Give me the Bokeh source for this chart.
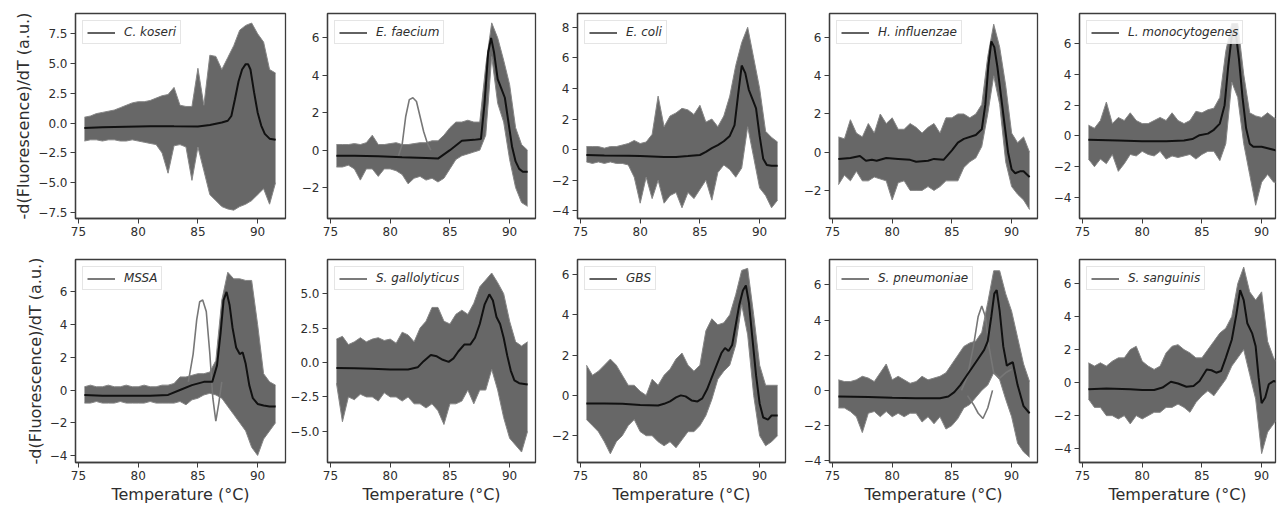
from bokeh.plotting import figure
from bokeh.models import Range1d, FixedTicker, Legend, LegendItem
from bokeh.layouts import row, column
from bokeh.embed import file_html
from bokeh.resources import INLINE

# ---------------- data ----------------
T = [75.5, 76.0, 76.5, 77.0, 77.5, 78.0, 78.5, 79.0, 79.5, 80.0, 80.5, 81.0, 81.5,
     82.0, 82.5, 83.0, 83.5, 84.0, 84.5, 85.0, 85.5, 86.0, 86.5, 87.0, 87.5, 88.0,
     88.5, 89.0, 89.5, 90.0, 90.5, 91.0, 91.5]

XTICKS = [75, 80, 85, 90]

# C. koseri
CK_MT = [75.5, 77.0, 79.0, 81.0, 83.0, 85.0, 86.0, 87.0, 87.5, 87.8, 88.1, 88.4, 88.7, 89.0, 89.2, 89.4, 89.7, 90.0, 90.3, 90.6, 91.0, 91.5]
CK_MY = [-0.4, -0.35, -0.3, -0.25, -0.27, -0.28, -0.15, 0.05, 0.2, 0.6, 2.0, 3.5, 4.5, 4.95, 4.95, 4.5, 2.6, 0.9, -0.2, -0.9, -1.3, -1.4]
CK_BU = [0.5, 0.6, 0.8, 0.9, 1.0, 1.1, 1.3, 1.5, 1.7, 1.8, 1.8, 1.9, 2.1, 2.3, 2.4, 3.0, 1.5, 1.4, 1.4, 4.6, 1.5, 5.7, 5.6, 4.5, 5.5, 6.5, 7.8, 8.2, 8.4, 7.5, 6.8, 4.5, 4.2]
CK_BL = [-1.5, -1.4, -1.4, -1.5, -1.4, -1.4, -1.5, -1.5, -1.4, -1.5, -1.6, -1.7, -1.8, -2.5, -4.2, -1.9, -1.8, -2.0, -4.8, -2.0, -4.0, -6.0, -6.5, -7.0, -7.2, -7.3, -7.0, -6.8, -6.5, -6.0, -5.5, -6.8, -5.0]
CK_YTICKS = [-7.5, -5.0, -2.5, 0.0, 2.5, 5.0, 7.5]
CK_YLABELS = ["\u22127.5", "\u22125.0", "\u22122.5", "0.0", "2.5", "5.0", "7.5"]

# E. faecium
EF_MT = [75.5, 77, 79, 81, 83, 84, 85, 86, 87, 87.6, 87.9, 88.2, 88.45, 88.7, 89.0, 89.3, 89.6, 89.9, 90.2, 90.5, 90.8, 91.1, 91.5]
EF_MY = [-0.3, -0.3, -0.33, -0.38, -0.42, -0.45, 0.0, 0.5, 0.55, 0.6, 2.5, 5.2, 6.0, 5.2, 3.8, 3.3, 2.8, 1.5, 0.2, -0.6, -1.0, -1.15, -1.15]
EF_BU = [0.3, 0.3, 0.3, 0.35, 0.3, 0.4, 0.8, 0.3, 0.3, 0.35, 0.4, 0.3, 0.3, 0.35, 0.4, 0.4, 0.5, 0.5, 0.8, 1.2, 1.5, 1.5, 1.6, 1.5, 1.5, 4.5, 6.8, 6.0, 4.8, 3.5, 1.2, 0.3, 0.0]
EF_BL = [-0.9, -0.9, -0.8, -1.0, -1.6, -1.0, -1.0, -1.4, -1.0, -1.0, -1.1, -1.3, -1.8, -1.5, -1.4, -1.6, -1.5, -1.7, -1.5, -1.0, -0.5, -0.3, -0.2, -0.1, 0.0, 0.8, 5.0, 2.5, 1.5, -0.5, -2.0, -2.8, -3.0]
EF_OT = [80.7, 81.0, 81.3, 81.6, 81.9, 82.2, 82.5, 82.8, 83.1, 83.4]
EF_OY = [-0.3, 0.3, 1.8, 2.7, 2.8, 2.6, 1.8, 1.0, 0.4, 0.0]
EF_YTICKS = [-2, 0, 2, 4, 6]
EF_YLABELS = ["\u22122", "0", "2", "4", "6"]

# E. coli
EC_MT = [75.5, 77, 79, 80, 82, 83, 84, 85, 85.5, 86, 86.5, 87, 87.5, 87.9, 88.2, 88.5, 88.8, 89.1, 89.4, 89.7, 90.0, 90.3, 90.6, 91.0, 91.5]
EC_MY = [-0.35, -0.38, -0.4, -0.42, -0.48, -0.48, -0.42, -0.35, -0.15, 0.1, 0.3, 0.55, 0.9, 1.6, 3.6, 5.5, 5.0, 3.9, 3.3, 2.7, 0.9, -0.6, -1.0, -1.05, -1.05]
EC_BU = [0.2, 0.2, 0.2, 0.1, 0.2, 0.2, 0.3, 0.4, 0.6, 0.4, 0.5, 1.0, 3.5, 1.5, 2.2, 2.4, 2.7, 2.6, 2.3, 2.9, 1.8, 2.0, 1.5, 2.2, 3.5, 5.5, 7.0, 8.0, 6.0, 4.0, 1.2, 0.8, 0.5]
EC_BL = [-0.8, -0.9, -0.8, -0.9, -0.8, -0.9, -0.9, -1.0, -1.8, -3.5, -1.8, -3.2, -2.0, -3.5, -3.0, -2.8, -3.8, -2.8, -3.2, -2.6, -2.0, -3.3, -1.5, -1.0, -1.3, -1.8, -1.2, 1.5, -0.5, -2.5, -3.0, -3.8, -3.3]
EC_YTICKS = [-4, -2, 0, 2, 4, 6, 8]
EC_YLABELS = ["\u22124", "\u22122", "0", "2", "4", "6", "8"]

# H. influenzae
HI_MT = [75.5, 76.5, 77.3, 77.8, 78.3, 78.7, 79.5, 80.5, 81.5, 82.0, 83.0, 83.5, 84.3, 85.0, 85.5, 86.0, 87.0, 87.5, 87.8, 88.05, 88.3, 88.55, 88.8, 89.1, 89.4, 89.7, 90.0, 90.3, 90.7, 91.0, 91.5]
HI_MY = [-0.35, -0.3, -0.2, -0.45, -0.4, -0.45, -0.3, -0.35, -0.4, -0.5, -0.45, -0.35, -0.4, 0.1, 0.5, 0.7, 0.9, 1.2, 2.5, 4.5, 5.8, 5.5, 4.5, 3.0, 1.5, 0.0, -0.9, -1.1, -1.0, -1.0, -1.3]
HI_BU = [0.8, 0.7, 1.7, 1.0, 0.8, 1.5, 1.0, 2.0, 1.5, 1.8, 1.2, 1.2, 1.5, 1.3, 1.0, 1.3, 1.5, 1.0, 1.8, 1.8, 2.0, 2.0, 1.8, 2.0, 2.5, 5.0, 6.7, 5.5, 3.5, 1.0, 0.5, 0.8, 0.0]
HI_BL = [-1.7, -1.2, -1.5, -1.0, -1.5, -1.5, -1.3, -1.4, -1.5, -2.5, -1.6, -1.5, -2.0, -2.0, -2.0, -1.8, -2.0, -1.8, -1.5, -1.5, -1.5, -0.8, -0.5, -0.3, 0.3, 2.0, 4.0, 2.5, -0.5, -1.8, -2.2, -2.5, -3.0]
HI_YTICKS = [-2, 0, 2, 4, 6]
HI_YLABELS = ["\u22122", "0", "2", "4", "6"]

# L. monocytogenes
LM_MT = [75.5, 78, 80, 82, 83.5, 84.2, 84.8, 85.5, 86.0, 86.5, 86.9, 87.2, 87.5, 87.8, 88.1, 88.4, 88.7, 89.0, 89.3, 90.0, 90.5, 91.0, 91.5]
LM_MY = [-0.25, -0.3, -0.35, -0.35, -0.3, -0.2, 0.05, 0.15, 0.4, 0.8, 2.0, 4.5, 6.5, 6.9, 5.0, 2.5, 0.5, -0.5, -0.7, -0.7, -0.8, -0.9, -1.0]
LM_BU = [0.7, 0.5, 1.0, 2.2, 0.8, 1.2, 1.0, 1.5, 1.0, 0.8, 0.8, 1.0, 1.2, 1.0, 1.5, 1.0, 0.8, 1.0, 1.6, 1.5, 1.7, 1.8, 2.5, 5.5, 7.3, 7.3, 4.0, 1.5, 1.3, 1.2, 1.5, 1.2, 1.0]
LM_BL = [-1.5, -2.0, -1.5, -1.8, -1.2, -2.3, -1.8, -1.2, -1.3, -1.0, -1.2, -1.3, -1.0, -1.5, -1.3, -1.4, -1.3, -1.2, -1.5, -1.2, -1.0, -1.0, -1.6, -0.5, 3.5, 2.5, -0.5, -2.5, -4.5, -3.0, -2.5, -3.0, -3.0]
LM_YTICKS = [-4, -2, 0, 2, 4, 6]
LM_YLABELS = ["\u22124", "\u22122", "0", "2", "4", "6"]

# MSSA
MS_MT = [75.5, 77, 79, 81, 82.5, 83.5, 84.5, 85.5, 86.2, 86.6, 86.9, 87.15, 87.4, 87.65, 87.9, 88.2, 88.5, 88.75, 89.0, 89.3, 89.6, 90.0, 90.5, 91.0, 91.5]
MS_MY = [-0.3, -0.35, -0.35, -0.35, -0.3, 0.0, 0.3, 0.5, 0.5, 1.5, 3.5, 5.5, 6.0, 5.2, 3.8, 2.6, 2.2, 2.3, 1.6, 0.3, -0.5, -0.85, -0.95, -1.0, -1.0]
MS_BU = [0.2, 0.3, 0.2, 0.2, 0.3, 0.2, 0.2, 0.3, 0.2, 0.2, 0.3, 0.2, 0.2, 0.3, 0.3, 0.4, 0.8, 0.8, 0.9, 1.0, 1.0, 1.1, 1.8, 5.5, 7.2, 6.8, 6.8, 6.7, 6.7, 4.0, 1.0, 0.5, 0.3]
MS_BL = [-0.8, -0.8, -0.7, -0.8, -0.8, -0.8, -0.7, -0.8, -0.8, -0.8, -0.8, -0.7, -0.8, -0.8, -0.8, -0.8, -0.7, -0.9, -0.6, -0.5, -0.3, -0.2, -0.3, -0.5, -1.0, -1.5, -2.0, -2.5, -3.5, -4.0, -3.0, -2.5, -2.0]
MS_OT = [84.2, 84.6, 84.9, 85.15, 85.4, 85.7, 86.0, 86.25, 86.5, 86.75, 87.0]
MS_OY = [0.5, 2.2, 4.3, 5.4, 5.5, 4.8, 2.2, -0.5, -1.9, -0.8, 0.5]
MS_YTICKS = [-4, -2, 0, 2, 4, 6]
MS_YLABELS = ["\u22124", "\u22122", "0", "2", "4", "6"]

# S. gallolyticus
SG_MT = [75.5, 77, 78.5, 80, 81.5, 82.3, 82.8, 83.4, 83.9, 84.4, 84.9, 85.3, 85.7, 86.2, 86.7, 87.1, 87.5, 87.9, 88.3, 88.6, 88.9, 89.2, 89.5, 89.8, 90.1, 90.4, 90.8, 91.5]
SG_MY = [-0.4, -0.42, -0.45, -0.5, -0.5, -0.35, 0.1, 0.55, 0.45, 0.2, 0.05, 0.3, 0.8, 1.3, 1.3, 1.8, 2.8, 4.2, 4.95, 4.5, 3.3, 2.8, 1.8, 0.5, -0.6, -1.3, -1.5, -1.6]
SG_BU = [1.7, 1.9, 1.3, 1.5, 1.8, 1.5, 1.7, 1.8, 1.6, 1.7, 1.4, 2.2, 2.0, 1.5, 2.5, 3.0, 4.0, 4.0, 3.0, 2.8, 3.5, 3.8, 3.5, 4.3, 5.5, 6.0, 6.5, 5.8, 5.0, 3.0, 1.5, 1.2, 1.5]
SG_BL = [-1.5, -4.3, -2.5, -2.7, -2.3, -2.5, -2.5, -2.8, -2.2, -2.5, -2.5, -2.8, -2.5, -3.0, -3.0, -3.3, -3.0, -3.5, -4.5, -3.0, -3.0, -2.8, -2.0, -3.0, -2.0, -2.0, -0.5, -2.0, -4.0, -5.5, -6.0, -6.5, -5.0]
SG_YTICKS = [-5.0, -2.5, 0.0, 2.5, 5.0]
SG_YLABELS = ["\u22125.0", "\u22122.5", "0.0", "2.5", "5.0"]

# GBS
GB_MT = [75.5, 77, 78.5, 80, 81.5, 82.0, 82.5, 83.0, 83.4, 83.8, 84.3, 84.8, 85.2, 85.6, 86.0, 86.4, 86.8, 87.1, 87.4, 87.7, 88.0, 88.3, 88.6, 88.85, 89.1, 89.4, 89.7, 90.0, 90.3, 90.7, 91.0, 91.5]
GB_MY = [-0.4, -0.4, -0.42, -0.48, -0.5, -0.42, -0.3, -0.1, 0.0, -0.05, -0.25, -0.3, -0.15, 0.3, 0.9, 1.5, 2.1, 2.35, 2.2, 2.5, 3.5, 4.5, 5.2, 5.45, 4.6, 2.8, 1.0, -0.4, -1.1, -1.2, -1.0, -1.0]
GB_BU = [1.5, 1.0, 1.2, 1.5, 1.8, 1.5, 1.0, 0.5, 0.5, 0.2, 0.0, 0.8, 0.5, 1.0, 1.3, 1.8, 2.1, 1.5, 1.2, 1.5, 3.2, 3.8, 3.5, 3.6, 4.0, 5.0, 6.2, 6.3, 4.0, 1.5, 0.5, 0.5, 0.5]
GB_BL = [-1.2, -1.5, -1.8, -2.3, -2.9, -2.3, -2.0, -1.5, -1.2, -1.8, -2.0, -2.0, -2.3, -2.5, -2.3, -2.6, -2.2, -1.8, -1.8, -1.5, -1.0, -0.2, 0.8, 1.2, 1.5, 2.5, 4.5, 3.0, 0.0, -2.0, -2.5, -2.3, -2.0]
GB_YTICKS = [-2, 0, 2, 4, 6]
GB_YLABELS = ["\u22122", "0", "2", "4", "6"]

# S. pneumoniae
SP_MT = [75.5, 78, 80, 82, 84, 84.7, 85.2, 85.7, 86.2, 86.7, 87.2, 87.7, 88.0, 88.3, 88.55, 88.75, 89.0, 89.3, 89.6, 89.8, 90.1, 90.5, 91.0, 91.5]
SP_MY = [-0.35, -0.38, -0.42, -0.45, -0.45, -0.35, -0.1, 0.3, 0.8, 1.3, 1.8, 2.3, 2.8, 4.2, 5.5, 5.7, 4.5, 2.5, 1.4, 1.5, 1.6, 0.3, -0.9, -1.3]
SP_BU = [0.6, 0.5, 0.5, 0.6, 0.8, 0.7, 0.5, 1.0, 1.5, 0.6, 0.8, 0.6, 0.4, 0.5, 0.8, 0.6, 0.7, 0.8, 1.0, 1.5, 2.0, 2.5, 2.7, 2.8, 3.3, 5.0, 6.8, 6.8, 5.5, 4.5, 3.0, 1.5, 0.5]
SP_BL = [-1.0, -1.0, -1.2, -1.5, -2.4, -1.3, -1.2, -1.5, -1.2, -1.5, -1.3, -1.5, -1.3, -1.3, -1.8, -1.5, -1.9, -1.5, -2.2, -2.0, -1.6, -1.0, -0.8, -0.4, 0.0, 0.3, 1.0, 0.6, -0.5, -1.5, -3.0, -3.5, -3.8]
SP_O1T = [85.8, 86.3, 86.8, 87.2, 87.5, 87.8, 88.1, 88.5, 89.0, 89.5, 90.0]
SP_O1Y = [0.0, 0.8, 2.5, 4.2, 4.8, 4.2, 2.5, 1.0, 0.7, 1.0, 1.2]
SP_O2T = [86.3, 86.8, 87.2, 87.6, 88.0, 88.4]
SP_O2Y = [-0.3, -0.8, -1.3, -1.6, -1.0, 0.0]
SP_YTICKS = [-4, -2, 0, 2, 4, 6]
SP_YLABELS = ["\u22124", "\u22122", "0", "2", "4", "6"]

# S. sanguinis
SS_MT = [75.5, 77, 79, 80, 81.0, 81.7, 82.4, 83.0, 83.7, 84.3, 84.8, 85.4, 85.8, 86.2, 86.6, 87.0, 87.5, 87.9, 88.2, 88.5, 88.8, 89.2, 89.5, 89.75, 90.0, 90.3, 90.6, 91.0, 91.5]
SS_MY = [-0.4, -0.35, -0.4, -0.45, -0.45, -0.3, 0.05, -0.05, -0.25, -0.2, 0.1, 0.8, 0.75, 0.6, 0.7, 1.5, 2.6, 4.2, 5.6, 5.0, 3.6, 3.0, 2.2, 0.3, -1.25, -0.9, -0.1, 0.1, 0.0]
SS_BU = [1.2, 1.0, 1.2, 1.0, 1.3, 1.5, 1.5, 2.0, 2.2, 1.3, 1.0, 0.8, 1.0, 1.8, 2.2, 2.3, 2.0, 1.8, 1.5, 1.5, 2.0, 2.5, 3.0, 3.3, 4.0, 6.0, 7.0, 5.5, 5.0, 5.5, 2.5, 1.5, 1.0]
SS_BL = [-1.0, -1.5, -1.5, -2.0, -2.0, -2.2, -2.0, -2.5, -2.0, -2.2, -2.0, -1.8, -1.8, -1.5, -1.5, -1.3, -1.5, -1.8, -1.2, -0.8, -0.5, -0.8, -0.3, 0.2, 1.0, 1.5, 2.0, 0.5, -1.0, -4.3, -3.0, -2.5, -2.0]
SS_YTICKS = [-4, -2, 0, 2, 4, 6]
SS_YLABELS = ["\u22124", "\u22122", "0", "2", "4", "6"]

LABELS = ["C. koseri", "E. faecium", "E. coli", "H. influenzae", "L. monocytogenes",
          "MSSA", "S. gallolyticus", "GBS", "S. pneumoniae", "S. sanguinis"]

PANELS = [
    dict(mt=CK_MT, my=CK_MY, bu=CK_BU, bl=CK_BL, yt=CK_YTICKS, yl=CK_YLABELS, out=[], yr=(-8.0, 9.2), lc="#3a3a3a"),
    dict(mt=EF_MT, my=EF_MY, bu=EF_BU, bl=EF_BL, yt=EF_YTICKS, yl=EF_YLABELS, out=[(EF_OT, EF_OY)], yr=(-3.65, 7.3), lc="#3a3a3a"),
    dict(mt=EC_MT, my=EC_MY, bu=EC_BU, bl=EC_BL, yt=EC_YTICKS, yl=EC_YLABELS, out=[], yr=(-4.5, 8.9), lc="#3a3a3a"),
    dict(mt=HI_MT, my=HI_MY, bu=HI_BU, bl=HI_BL, yt=HI_YTICKS, yl=HI_YLABELS, out=[], yr=(-3.47, 7.26), lc="#3a3a3a"),
    dict(mt=LM_MT, my=LM_MY, bu=LM_BU, bl=LM_BL, yt=LM_YTICKS, yl=LM_YLABELS, out=[], yr=(-5.36, 7.95), lc="#3a3a3a"),
    dict(mt=MS_MT, my=MS_MY, bu=MS_BU, bl=MS_BL, yt=MS_YTICKS, yl=MS_YLABELS, out=[(MS_OT, MS_OY)], yr=(-4.43, 7.98), lc="#5a5a5a"),
    dict(mt=SG_MT, my=SG_MY, bu=SG_BU, bl=SG_BL, yt=SG_YTICKS, yl=SG_YLABELS, out=[], yr=(-7.26, 7.48), lc="#5a5a5a"),
    dict(mt=GB_MT, my=GB_MY, bu=GB_BU, bl=GB_BL, yt=GB_YTICKS, yl=GB_YLABELS, out=[], yr=(-3.33, 6.74), lc="#3a3a3a"),
    dict(mt=SP_MT, my=SP_MY, bu=SP_BU, bl=SP_BL, yt=SP_YTICKS, yl=SP_YLABELS, out=[(SP_O1T, SP_O1Y), (SP_O2T, SP_O2Y)], yr=(-4.1, 7.44), lc="#5a5a5a"),
    dict(mt=SS_MT, my=SS_MY, bu=SS_BU, bl=SS_BL, yt=SS_YTICKS, yl=SS_YLABELS, out=[], yr=(-4.84, 7.46), lc="#5a5a5a"),
]

FONT = "DejaVu Sans"
TXT = "#2e2e2e"
FRAME = "#3c3c3c"

# column geometry (left border, frame width) and row geometry (top, frame height, bottom)
COLS = [(75, 210), (40, 208), (40, 208), (42, 208), (40, 196)]
ROWS = [(13, 205, 36), (5, 204, 43)]


def build(i, cfg, label):
    r, c = divmod(i, 5)
    left, fw = COLS[c]
    top, fh, bottom = ROWS[r]
    right = 2
    xend = 74.75 + 17.5 * fw / 209.0
    p = figure(width=left + fw + right, height=top + fh + bottom,
               output_backend="svg", toolbar_location=None, tools="",
               x_range=Range1d(74.75, xend), y_range=Range1d(*cfg["yr"]),
               min_border_left=left, min_border_right=right,
               min_border_top=top, min_border_bottom=bottom)
    p.grid.visible = False
    p.outline_line_color = FRAME
    p.outline_line_width = 1.3
    p.background_fill_color = "white"
    p.border_fill_color = "white"

    # grey trace drawn under the band: it stands for the individual curves in the legend
    proxy = p.line(cfg["mt"], cfg["my"], line_color=cfg["lc"], line_width=1.6)
    p.varea(x=T, y1=cfg["bl"], y2=cfg["bu"], fill_color="#676767", fill_alpha=1.0)
    p.line(T, cfg["bu"], line_color="#858585", line_width=1)
    p.line(T, cfg["bl"], line_color="#858585", line_width=1)
    for ox, oy in cfg["out"]:
        p.line(ox, oy, line_color="#777777", line_width=1.6)
    p.line(cfg["mt"], cfg["my"], line_color="#111111", line_width=2)

    leg = Legend(items=[LegendItem(label=label, renderers=[proxy])], location="top_left")
    leg.label_text_font = FONT
    leg.label_text_font_size = "12px"
    leg.label_text_font_style = "italic"
    leg.label_text_color = TXT
    leg.glyph_width = 28
    leg.glyph_height = 13
    leg.label_height = 13
    leg.label_standoff = 9
    leg.padding = 4
    leg.margin = 7
    leg.spacing = 0
    leg.border_line_color = "#cccccc"
    leg.border_line_width = 1
    leg.background_fill_alpha = 0.85
    p.add_layout(leg)

    for ax in (p.xaxis[0], p.yaxis[0]):
        ax.major_label_text_font = FONT
        ax.major_label_text_font_size = "12px"
        ax.major_label_text_color = TXT
        ax.major_tick_out = 5
        ax.major_tick_in = 0
        ax.minor_tick_out = 0
        ax.minor_tick_in = 0
        ax.major_tick_line_color = FRAME
        ax.axis_line_color = FRAME
        ax.axis_line_width = 1.3
        ax.major_label_standoff = 3
        ax.axis_label_text_font = FONT
        ax.axis_label_text_font_size = "16px"
        ax.axis_label_text_font_style = "normal"
        ax.axis_label_text_color = TXT
        ax.axis_label_standoff = 2

    p.xaxis.ticker = FixedTicker(ticks=XTICKS)
    p.yaxis.ticker = FixedTicker(ticks=cfg["yt"])
    p.yaxis.major_label_overrides = {float(t): s for t, s in zip(cfg["yt"], cfg["yl"])}
    if c == 0:
        p.yaxis.axis_label = "-d(Fluorescence)/dT (a.u.)"
    if r == 1:
        p.xaxis.axis_label = "Temperature (\u00b0C)"
    return p


figs = [build(i, cfg, LABELS[i]) for i, cfg in enumerate(PANELS)]
layout = column(row(*figs[:5], spacing=0), row(*figs[5:], spacing=0), spacing=0)

open("out.html", "w").write(file_html(layout, INLINE))
